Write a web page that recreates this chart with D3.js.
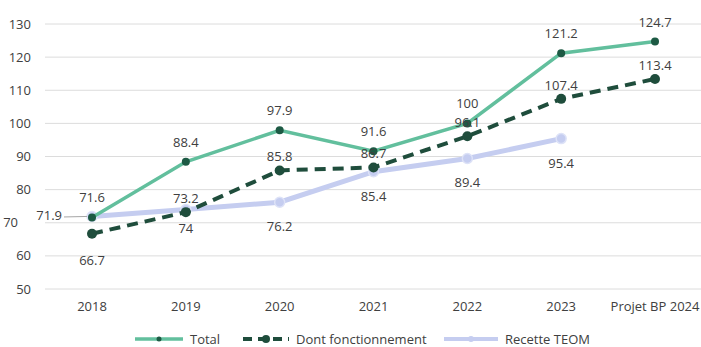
<!DOCTYPE html>
<html>
<head>
<meta charset="utf-8">
<script src="https://cdn.jsdelivr.net/npm/d3@7"></script>
<style>
  body { margin: 0; background: #fff; }
  text { font-family: "Open Sans", "Noto Sans", sans-serif; fill: #404040; }
</style>
</head>
<body>
<svg width="701" height="347"></svg>
<script>
const years = ["2018", "2019", "2020", "2021", "2022", "2023", "Projet BP 2024"];
const total = [71.6, 88.4, 97.9, 91.6, 100, 121.2, 124.7];
const fonct = [66.7, 73.2, 85.8, 86.7, 96.1, 107.4, 113.4];
const teom = [71.9, 74, 76.2, 85.4, 89.4, 95.4, null];
const yTicks = [50, 60, 70, 80, 90, 100, 110, 120, 130];

// where each data label sits relative to its point
const totalPos = ["above", "above", "above", "above", "above", "above", "above"];
const fonctPos = ["below", "above", "above", "above", "above", "above", "above"];
const teomPos = ["left", "below", "below", "below", "below", "below", null];

const svg = d3.select("svg");

const x = d3.scalePoint().domain(years).range([92, 655]);
const y = d3.scaleLinear().domain([50, 130]).range([289, 24]);

// grid
svg.append("g").selectAll("line")
  .data(yTicks).enter().append("line")
  .attr("x1", 45).attr("x2", 701)
  .attr("y1", d => y(d)).attr("y2", d => y(d))
  .attr("stroke", "#dcdcdc").attr("stroke-width", 1);

svg.append("g").selectAll("text")
  .data(yTicks).enter().append("text")
  .attr("x", d => d === 70 ? 18 : 31)
  .attr("y", d => y(d) + 4.5)
  .attr("text-anchor", "end")
  .attr("font-size", 13)
  .text(d => d);

svg.append("g").selectAll("text")
  .data(years).enter().append("text")
  .attr("x", d => x(d))
  .attr("y", 311)
  .attr("text-anchor", "middle")
  .attr("font-size", 13)
  .text(d => d);

const line = d3.line()
  .defined(d => d.v != null)
  .x(d => x(d.k)).y(d => y(d.v));

const pack = vals => years.map((k, i) => ({ k, v: vals[i], i }));

const series = [
  { name: "Recette TEOM", vals: teom, pos: teomPos, color: "#c5cdf0", width: 5, dash: null, dot: "#c5cdf0", r: 5, up: 0, down: 29 },
  { name: "Total", vals: total, pos: totalPos, color: "#62bf9d", width: 3.5, dash: null, dot: "#1d5a44", r: 4, up: 15, down: 0 },
  { name: "Dont fonctionnement", vals: fonct, pos: fonctPos, color: "#1f4d3c", width: 4, dash: "11,7", dot: "#1f4d3c", r: 5, up: 9, down: 31 }
];

series.forEach(s => {
  const pts = pack(s.vals);
  svg.append("path")
    .datum(pts)
    .attr("fill", "none")
    .attr("stroke", s.color)
    .attr("stroke-width", s.width)
    .attr("stroke-dasharray", s.dash)
    .attr("d", line);
  svg.append("g").selectAll("circle")
    .data(pts.filter(d => d.v != null)).enter().append("circle")
    .attr("cx", d => x(d.k)).attr("cy", d => y(d.v))
    .attr("r", s.r)
    .attr("fill", s.dot)
    .attr("stroke", s.name === "Recette TEOM" ? "#dde2f7" : "none")
    .attr("stroke-width", 1.5);
});

// data labels
series.forEach(s => {
  const pts = pack(s.vals).filter(d => d.v != null);
  pts.forEach(d => {
    const p = s.pos[d.i];
    let lx = x(d.k), ly = y(d.v), anchor = "middle";
    if (p === "above") ly -= s.up;
    if (p === "below") ly += d.i === 1 ? 23 : s.down;
    if (p === "left") {
      lx = 62; ly += 4; anchor = "end";
      svg.append("line")
        .attr("x1", 64).attr("x2", x(d.k) - 5)
        .attr("y1", y(d.v) + 0.5).attr("y2", y(d.v))
        .attr("stroke", "#a6a6a6").attr("stroke-width", 1);
    }
    svg.append("text")
      .attr("x", lx).attr("y", ly)
      .attr("text-anchor", anchor)
      .attr("font-size", 13)
      .text(d.v);
  });
});

// legend
const legend = [
  { name: "Total", x: 135, color: "#62bf9d", width: 3.5, dash: null, dot: "#1d5a44", r: 2.5, len: 48 },
  { name: "Dont fonctionnement", x: 243, color: "#1f4d3c", width: 4, dash: "9,6", dot: "#1f4d3c", r: 4, len: 46 },
  { name: "Recette TEOM", x: 444, color: "#c5cdf0", width: 4, dash: null, dot: "#c5cdf0", r: 3, len: 54 }
];
const lg = svg.append("g").selectAll("g").data(legend).enter().append("g")
  .attr("transform", d => `translate(${d.x},339)`);
lg.append("line")
  .attr("x1", 0).attr("x2", d => d.len)
  .attr("stroke", d => d.color).attr("stroke-width", d => d.width)
  .attr("stroke-dasharray", d => d.dash);
lg.append("circle")
  .attr("cx", d => d.len / 2).attr("r", d => d.r).attr("fill", d => d.dot);
lg.append("text")
  .attr("x", d => d.len + 7).attr("y", 4.5)
  .attr("font-size", 13)
  .text(d => d.name);
</script>
</body>
</html>
